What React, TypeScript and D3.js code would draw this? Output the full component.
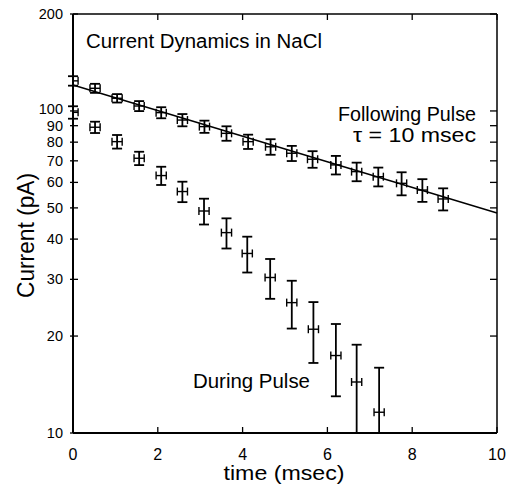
import React from 'react';
import { scaleLinear, scaleLog, line } from 'd3';

const followT = [0, 0.52, 1.04, 1.56, 2.08, 2.58, 3.1, 3.62, 4.13, 4.66, 5.16, 5.65, 6.2, 6.69, 7.2, 7.75, 8.24, 8.73];
const followI = [124, 117.6, 109.5, 103.6, 98.8, 93.7, 89.4, 85.2, 80.3, 77.4, 73.9, 70.8, 68.0, 64.8, 62.5, 59.6, 56.8, 53.3];
const followErr = [4.2, 3.8, 3.3, 3.7, 3.9, 4.1, 3.9, 4.4, 4.1, 4.3, 4.0, 4.2, 4.5, 4.3, 4.2, 4.9, 4.6, 4.2];

const duringT = [0, 0.52, 1.04, 1.56, 2.08, 2.58, 3.09, 3.62, 4.11, 4.65, 5.16, 5.67, 6.2, 6.69, 7.22];
const duringI = [99, 89.0, 80.3, 71.3, 63.0, 56.2, 48.9, 41.9, 36.1, 30.4, 25.4, 21.0, 17.4, 14.4, 11.6];
const duringErr = [4.4, 3.6, 3.9, 3.4, 4.1, 4.1, 4.5, 4.5, 4.6, 4.3, 4.3, 4.5, 4.4, 4.4, 4.35];

const timeErr = 0.12;

// exponential fit, tau ~ 10 msec
const fitT = [0, 10];
const fitI = [120.4, 48.2];

const xTicks = [0, 2, 4, 6, 8, 10];
const yTicks = [10, 20, 30, 40, 50, 60, 70, 80, 90, 100, 200];

const width = 511;
const height = 489;
const left = 73, right = 497, top = 14, bottom = 433;

const x = scaleLinear().domain([0, 10]).range([left, right]);
const y = scaleLog().domain([10, 200]).range([bottom, top]);

const font = '"Liberation Sans", Arial, Helvetica, sans-serif';

const fitLine = line<number>()
    .x((d, i) => x(fitT[i]))
    .y(d => y(d));

const ErrorBars = ({ t, v, e }: { t: number[]; v: number[]; e: number[] }) => {
    return (
        <g stroke="#000" strokeWidth={1.8} fill="none">
            {t.map((ti, i) => {
                const lo = v[i] - e[i];
                const hi = v[i] + e[i];
                const yLo = lo < 10 ? bottom : y(lo);
                const yHi = y(Math.min(hi, 200));
                const cx = x(ti);
                const cy = y(v[i]);
                const xl = x(ti - timeErr);
                const xr = x(ti + timeErr);
                return (
                    <g key={i}>
                        <line x1={cx} x2={cx} y1={yHi} y2={yLo} />
                        <line x1={cx - 5} x2={cx + 5} y1={yHi} y2={yHi} />
                        {lo >= 9.99 && <line x1={cx - 5} x2={cx + 5} y1={yLo} y2={yLo} />}
                        <line x1={Math.max(xl, left)} x2={xr} y1={cy} y2={cy} strokeWidth={1.4} />
                        {xl >= left && <line x1={xl} x2={xl} y1={cy - 4} y2={cy + 4} strokeWidth={1.4} />}
                        <line x1={xr} x2={xr} y1={cy - 4} y2={cy + 4} strokeWidth={1.4} />
                    </g>
                );
            })}
        </g>
    );
};

const App = () => {
    return (
        <svg width={width} height={height} style={{ position: 'absolute', left: 0, top: 0, background: '#fff' }}
            fontFamily={font}>
            {/* frame */}
            <line x1={left} x2={left} y1={top} y2={bottom} stroke="#000" strokeWidth={2} />
            <line x1={left} x2={right} y1={bottom} y2={bottom} stroke="#000" strokeWidth={2} />
            <line x1={left} x2={right} y1={top} y2={top} stroke="#000" strokeWidth={1.5} />
            <line x1={right} x2={right} y1={top} y2={bottom} stroke="#000" strokeWidth={1.5} />

            {/* x ticks */}
            {xTicks.map(t => (
                <g key={t}>
                    <line x1={x(t)} x2={x(t)} y1={bottom} y2={bottom - 6} stroke="#000" strokeWidth={1.3} />
                    <line x1={x(t)} x2={x(t)} y1={top} y2={top + 6} stroke="#000" strokeWidth={1.3} />
                    <text x={x(t)} y={460} textAnchor="middle" fontSize={16}>{t}</text>
                </g>
            ))}

            {/* y ticks; 100 sits a touch high in the original */}
            {yTicks.map(t => (
                <g key={t}>
                    <line x1={left - 3} x2={left + 5} y1={y(t)} y2={y(t)} stroke="#000" strokeWidth={1.3} />
                    <line x1={right} x2={right - 7} y1={y(t)} y2={y(t)} stroke="#000" strokeWidth={1.3} />
                    <text x={63} y={y(t) - (t === 100 ? 2 : 0)} dy="0.35em" textAnchor="end" fontSize={14.5}>{t}</text>
                </g>
            ))}

            <path d={fitLine(fitI) || ''} stroke="#000" strokeWidth={1.5} fill="none" />

            <ErrorBars t={followT} v={followI} e={followErr} />
            <ErrorBars t={duringT} v={duringI} e={duringErr} />

            <text x={86} y={48} fontSize={20} textLength={236} lengthAdjust="spacingAndGlyphs">Current Dynamics in NaCl</text>
            <text x={338} y={121} fontSize={19.5} textLength={138} lengthAdjust="spacingAndGlyphs">Following Pulse</text>
            <text x={353} y={142} fontSize={20} textLength={123} lengthAdjust="spacingAndGlyphs">τ = 10 msec</text>
            <text x={193} y={388} fontSize={20} textLength={117} lengthAdjust="spacingAndGlyphs">During Pulse</text>

            <text x={284} y={480} textAnchor="middle" fontSize={20} textLength={121} lengthAdjust="spacingAndGlyphs">time (msec)</text>
            <text transform={`translate(34, 235.5) rotate(-90)`} textAnchor="middle" fontSize={24}
                textLength={125} lengthAdjust="spacingAndGlyphs">Current (pA)</text>
        </svg>
    );
};

export default App;
